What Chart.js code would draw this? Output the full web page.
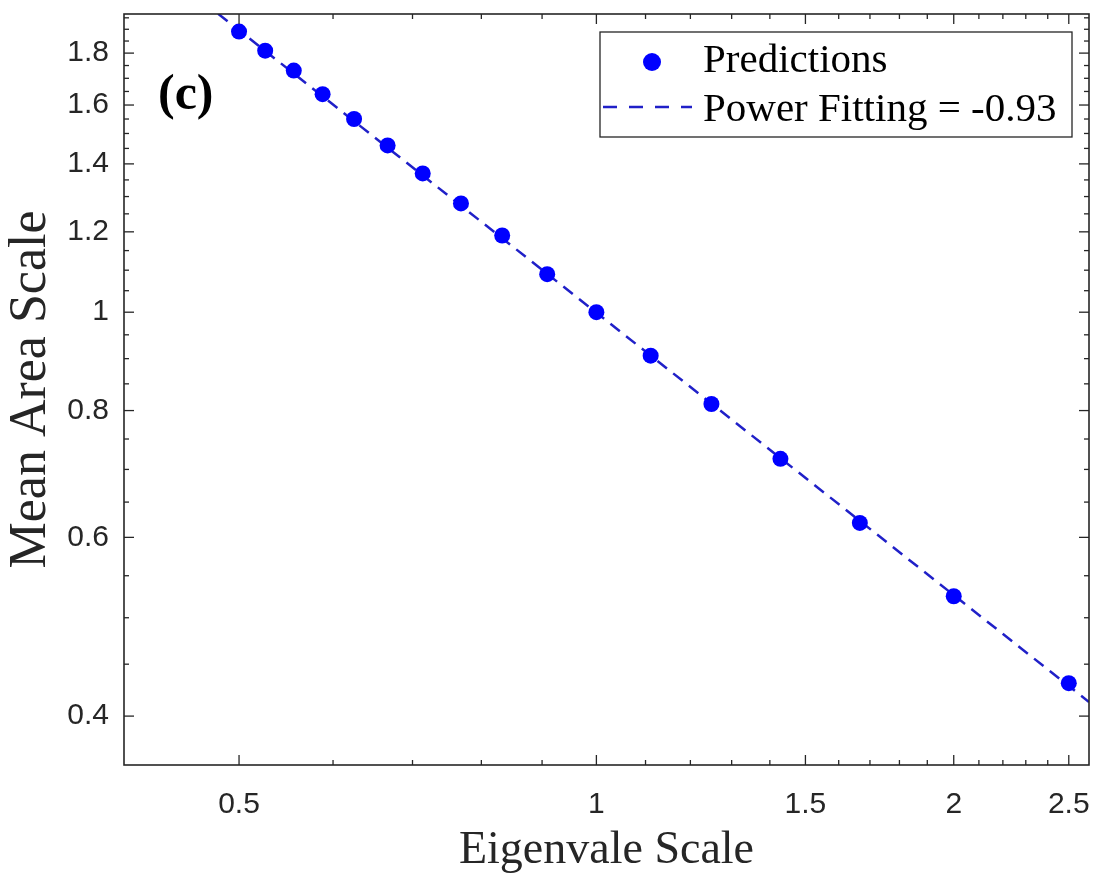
<!DOCTYPE html>
<html>
<head>
<meta charset="utf-8">
<script src="https://cdn.jsdelivr.net/npm/chart.js@4.4.1/dist/chart.umd.min.js"></script>
<style>
  html, body { margin: 0; padding: 0; background: #ffffff; }
  #wrap { width: 1097px; height: 880px; }
</style>
</head>
<body>
<div id="wrap"><canvas id="chart" width="1097" height="880"></canvas></div>
<script>
// Eigenvalue scale factors and the mean area scale predicted for each
const eigenScale = [0.5, 0.526, 0.556, 0.588, 0.625, 0.667, 0.714, 0.769, 0.833, 0.909, 1, 1.111, 1.25, 1.429, 1.667, 2, 2.5];
const meanArea   = [1.89, 1.81, 1.73, 1.64, 1.55, 1.46, 1.37, 1.28, 1.19, 1.09, 1.00, 0.906, 0.812, 0.717, 0.62, 0.525, 0.431];

// Power-law fit, given by its two end points across the axis range
const fitX = [0.4, 2.6];
const fitY = [2.33, 0.413];

// Axis ranges and tick positions
const xRange = [0.4, 2.6];
const yRange = [0.358, 1.967];
const xMajorTicks = [0.5, 1, 1.5, 2, 2.5];
const xMinorTicks = [0.6, 0.7, 0.8, 0.9, 1.1, 1.2, 1.3, 1.4, 1.6, 1.7, 1.8, 1.9, 2.1, 2.2, 2.3, 2.4];
const yMajorTicks = [0.4, 0.6, 0.8, 1, 1.2, 1.4, 1.6, 1.8];
const yMinorTicks = [0.45, 0.5, 0.55, 0.65, 0.7, 0.75, 0.85, 0.9, 0.95, 1.05, 1.1, 1.15,
                     1.25, 1.3, 1.35, 1.45, 1.5, 1.55, 1.65, 1.7, 1.75, 1.85, 1.9, 1.95];

// Text
const seriesLabels = ['Predictions', 'Power Fitting = -0.93'];
const xTitle = 'Eigenvale Scale';
const yTitle = 'Mean Area Scale';
const panelLabel = '(c)';

const AXIS_COLOR = '#262626';
const POINT_COLOR = '#0000ff';
const FIT_COLOR = '#2020c8';
const FIT_DASH = [12, 8];

// Box around the plot, inward ticks on all four sides, legend and panel tag
const framePlugin = {
  id: 'frame',
  afterDraw(chart) {
    const ctx = chart.ctx;
    const ca = chart.chartArea;
    const xs = chart.scales.x;
    const ys = chart.scales.y;
    ctx.save();
    ctx.strokeStyle = AXIS_COLOR;
    ctx.lineWidth = 1.3;
    const seg = (x1, y1, x2, y2) => { ctx.beginPath(); ctx.moveTo(x1, y1); ctx.lineTo(x2, y2); ctx.stroke(); };
    const xTick = (v, len) => {
      const p = xs.getPixelForValue(v);
      seg(p, ca.bottom, p, ca.bottom - len);
      seg(p, ca.top, p, ca.top + len);
    };
    const yTick = (v, len) => {
      const p = ys.getPixelForValue(v);
      seg(ca.left, p, ca.left + len, p);
      seg(ca.right, p, ca.right - len, p);
    };
    xMajorTicks.forEach(v => xTick(v, 10));
    xMinorTicks.forEach(v => xTick(v, 5));
    yMajorTicks.forEach(v => yTick(v, 10));
    yMinorTicks.forEach(v => yTick(v, 5));
    ctx.lineWidth = 1.6;
    ctx.strokeRect(ca.left, ca.top, ca.right - ca.left, ca.bottom - ca.top);

    // legend
    const bx = ca.right - 489, by = ca.top + 18, bw = 472, bh = 105;
    ctx.fillStyle = '#ffffff';
    ctx.fillRect(bx, by, bw, bh);
    ctx.lineWidth = 1.3;
    ctx.strokeStyle = AXIS_COLOR;
    ctx.strokeRect(bx, by, bw, bh);

    ctx.fillStyle = POINT_COLOR;
    ctx.beginPath();
    ctx.arc(bx + 52, by + 30, 9, 0, Math.PI * 2);
    ctx.fill();

    ctx.strokeStyle = FIT_COLOR;
    ctx.lineWidth = 2.5;
    ctx.setLineDash([14, 12]);
    seg(bx + 3, by + 75, bx + 92, by + 75);
    ctx.setLineDash([]);

    ctx.fillStyle = '#000000';
    ctx.font = '41px "Liberation Serif", "Times New Roman", serif';
    ctx.textAlign = 'left';
    ctx.textBaseline = 'alphabetic';
    ctx.fillText(seriesLabels[0], bx + 103, by + 40);
    ctx.fillText(seriesLabels[1], bx + 103, by + 89);

    // panel tag
    ctx.font = 'bold 50px "Liberation Serif", "Times New Roman", serif';
    ctx.fillText(panelLabel, ca.left + 34, ca.top + 95);
    ctx.restore();
  }
};

const chart = new Chart(document.getElementById('chart'), {
  type: 'scatter',
  data: {
    datasets: [
      {
        label: seriesLabels[0],
        data: eigenScale.map((x, i) => ({ x: x, y: meanArea[i] })),
        pointRadius: 8,
        pointHoverRadius: 8,
        pointBackgroundColor: POINT_COLOR,
        pointBorderColor: POINT_COLOR,
        pointBorderWidth: 0,
        showLine: false
      },
      {
        label: seriesLabels[1],
        data: fitX.map((x, i) => ({ x: x, y: fitY[i] })),
        showLine: true,
        borderColor: FIT_COLOR,
        borderWidth: 2.5,
        borderDash: FIT_DASH,
        pointRadius: 0,
        clip: 0
      }
    ]
  },
  options: {
    responsive: false,
    animation: false,
    devicePixelRatio: 1,
    layout: { padding: { left: 0, right: 8, top: 14, bottom: 0 } },
    plugins: { legend: { display: false }, tooltip: { enabled: false } },
    scales: {
      x: {
        type: 'logarithmic',
        min: xRange[0],
        max: xRange[1],
        afterBuildTicks: s => { s.ticks = xMajorTicks.map(v => ({ value: v })); },
        afterFit: s => { s.height = 115; s.paddingLeft = 0; s.paddingRight = 0; },
        grid: { display: false, drawTicks: false, tickLength: 0 },
        border: { display: false },
        ticks: {
          autoSkip: false,
          maxRotation: 0,
          padding: 22,
          color: AXIS_COLOR,
          font: { family: '"Liberation Sans", Arial, sans-serif', size: 30 },
          callback: v => String(v)
        },
        title: {
          display: true,
          text: xTitle,
          color: AXIS_COLOR,
          font: { family: '"Liberation Serif", "Times New Roman", serif', size: 46 },
          padding: { top: 0, bottom: 1 }
        }
      },
      y: {
        type: 'logarithmic',
        min: yRange[0],
        max: yRange[1],
        afterBuildTicks: s => { s.ticks = yMajorTicks.map(v => ({ value: v })); },
        afterFit: s => { s.width = 124; s.paddingTop = 0; s.paddingBottom = 0; },
        grid: { display: false, drawTicks: false, tickLength: 0 },
        border: { display: false },
        ticks: {
          autoSkip: false,
          padding: 15,
          color: AXIS_COLOR,
          font: { family: '"Liberation Sans", Arial, sans-serif', size: 30 },
          callback: v => String(v)
        },
        title: {
          display: true,
          text: yTitle,
          color: AXIS_COLOR,
          font: { family: '"Liberation Serif", "Times New Roman", serif', size: 52 },
          padding: { top: 0, bottom: 0 }
        }
      }
    }
  },
  plugins: [framePlugin]
});
</script>
</body>
</html>
